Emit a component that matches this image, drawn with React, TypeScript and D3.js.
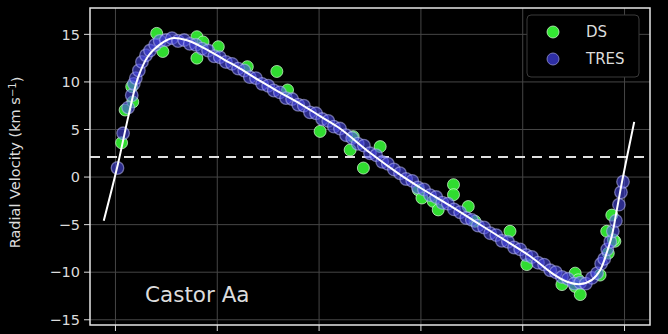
import React from "react";
import * as d3 from "d3";

const W = 668;
const H = 334;

const xTicks = [0, 0.2, 0.4, 0.6, 0.8, 1.0];
const yTicks = [-15, -10, -5, 0, 5, 10, 15];
const gammaVel = 2.1;
const starLabel = "Castor Aa";
const yTitle = "Radial Velocity (km s";

// orbit model (phase, km/s)
const modelPhase = [-0.023, 0.005, 0.025, 0.044, 0.064, 0.089, 0.111, 0.139, 0.176, 0.215, 0.245, 0.284, 0.323, 0.363, 0.402, 0.441, 0.5, 0.559, 0.598, 0.657, 0.706, 0.755, 0.814, 0.86, 0.887, 0.913, 0.936, 0.952, 0.966, 0.975, 0.985, 0.995, 1.019];
const modelVel = [-4.6, 1.4, 6.3, 10.4, 12.7, 14.0, 14.6, 14.4, 13.5, 12.3, 11.4, 10.1, 8.9, 7.7, 6.4, 5.1, 2.55, 0.25, -1.1, -3.0, -4.65, -6.3, -8.3, -10.2, -11.0, -11.25, -10.8, -9.8, -7.8, -6.2, -3.4, -0.5, 5.8];

// DS observations
const dsPhase = [0.012, 0.019, 0.034, 0.032, 0.081, 0.093, 0.160, 0.172, 0.160, 0.202, 0.259, 0.317, 0.338, 0.402, 0.467, 0.461, 0.520, 0.487, 0.595, 0.664, 0.602, 0.624, 0.634, 0.664, 0.693, 0.706, 0.775, 0.808, 0.903, 0.909, 0.903, 0.913, 0.981, 0.965, 0.968, 0.952, 0.975, 0.978, 0.877];
const dsVel = [3.6, 7.05, 7.9, 9.5, 15.1, 13.2, 14.75, 14.2, 12.5, 13.7, 11.6, 11.1, 9.15, 4.8, 4.25, 2.85, 3.2, 0.95, -1.35, -0.8, -2.2, -2.55, -3.45, -1.85, -3.1, -4.65, -5.7, -9.2, -10.1, -10.8, -11.5, -12.35, -6.75, -5.7, -8.0, -10.3, -4.0, -6.6, -11.3];

// TRES observations
const tresPhase = [0.004, 0.015, 0.025, 0.032, 0.036, 0.040, 0.046, 0.052, 0.060, 0.068, 0.078, 0.087, 0.099, 0.111, 0.123, 0.135, 0.146, 0.158, 0.170, 0.182, 0.194, 0.205, 0.217, 0.229, 0.241, 0.253, 0.264, 0.276, 0.288, 0.300, 0.311, 0.323, 0.335, 0.347, 0.359, 0.370, 0.382, 0.394, 0.406, 0.418, 0.429, 0.441, 0.453, 0.465, 0.476, 0.488, 0.500, 0.512, 0.524, 0.535, 0.547, 0.559, 0.571, 0.583, 0.594, 0.606, 0.618, 0.630, 0.642, 0.653, 0.665, 0.677, 0.689, 0.700, 0.712, 0.724, 0.736, 0.748, 0.759, 0.771, 0.783, 0.795, 0.807, 0.818, 0.830, 0.842, 0.854, 0.865, 0.877, 0.889, 0.901, 0.913, 0.924, 0.936, 0.946, 0.954, 0.960, 0.966, 0.972, 0.977, 0.983, 0.989, 0.993, 0.997];
const tresVel = [0.95, 4.6, 7.3, 8.6, 9.8, 10.4, 11.2, 12.1, 12.8, 13.3, 13.9, 14.3, 14.4, 14.6, 14.3, 14.4, 14.0, 13.9, 13.5, 13.3, 12.7, 12.6, 12.1, 11.9, 11.4, 11.2, 10.5, 10.4, 9.8, 9.6, 9.1, 8.9, 8.3, 8.2, 7.6, 7.5, 6.8, 6.7, 6.1, 5.9, 5.3, 5.1, 4.4, 4.1, 3.5, 3.3, 2.5, 2.3, 1.6, 1.4, 0.8, 0.4, -0.2, -0.4, -1.1, -1.3, -1.9, -2.1, -2.7, -2.8, -3.4, -3.7, -4.3, -4.5, -5.1, -5.3, -5.9, -6.1, -6.7, -6.8, -7.4, -7.6, -8.2, -8.4, -9.0, -9.2, -9.8, -10.0, -10.5, -10.7, -11.2, -11.1, -11.2, -10.6, -10.1, -9.1, -8.6, -7.6, -6.8, -5.7, -4.6, -2.9, -1.6, -0.5];

export default function App() {
  const m = { l: 90, r: 650, t: 8, b: 325 };
  const x = d3.scaleLinear().domain([-0.05, 1.05]).range([m.l, m.r]);
  const y = d3.scaleLinear().domain([-15.55, 17.77]).range([m.b, m.t]);

  const model = modelPhase.map((p, i) => [p, modelVel[i]] as [number, number]);
  const line = d3
    .line<[number, number]>()
    .x((d) => x(d[0]))
    .y((d) => y(d[1]))
    .curve(d3.curveCatmullRom.alpha(0.5));

  const font = "DejaVu Sans, sans-serif";
  const txt = "#dcdcdc";
  const green = "#33e833";
  const blue = "#4a4ae6";

  return (
    <svg
      width={W}
      height={H}
      style={{ position: "absolute", left: 0, top: 0, background: "#000" }}
      fontFamily={font}
    >
      <rect x={0} y={0} width={W} height={H} fill="#000" />
      <defs>
        <clipPath id="plot">
          <rect x={m.l} y={m.t} width={m.r - m.l} height={m.b - m.t} />
        </clipPath>
      </defs>
      {/* grid */}
      <g stroke="#464646" strokeWidth={1}>
        {xTicks.map((t) => (
          <line key={"gx" + t} x1={x(t)} x2={x(t)} y1={m.t} y2={m.b} />
        ))}
        {yTicks.map((t) => (
          <line key={"gy" + t} x1={m.l} x2={m.r} y1={y(t)} y2={y(t)} />
        ))}
      </g>
      {/* ticks */}
      <g stroke="#dcdcdc" strokeWidth={1}>
        {xTicks.map((t) => (
          <line key={"tx" + t} x1={x(t)} x2={x(t)} y1={m.b} y2={m.b + 6} />
        ))}
        {yTicks.map((t) => (
          <line key={"ty" + t} x1={m.l - 6} x2={m.l} y1={y(t)} y2={y(t)} />
        ))}
      </g>
      <g fill={txt} fontSize={14.5} textAnchor="end">
        {yTicks.map((t) => (
          <text key={"ly" + t} x={m.l - 10} y={y(t)} dy="0.36em">
            {t < 0 ? "\u2212" + Math.abs(t) : String(t)}
          </text>
        ))}
      </g>
      <text
        transform={`translate(20,${(m.t + m.b) / 2 - 4}) rotate(-90)`}
        textAnchor="middle"
        fill={txt}
        fontSize={14.5}
      >
        {yTitle}
        <tspan dy="-0.45em" fontSize={10}>
          {"\u22121"}
        </tspan>
        <tspan dy="0.45em">)</tspan>
      </text>

      <g clipPath="url(#plot)">
        <line
          x1={m.l}
          x2={m.r}
          y1={y(gammaVel)}
          y2={y(gammaVel)}
          stroke="#e0e0e0"
          strokeWidth={2}
          strokeDasharray="10,7"
        />
        {dsPhase.map((p, i) => (
          <circle
            key={"ds" + i}
            cx={x(p)}
            cy={y(dsVel[i])}
            r={6}
            fill={green}
            fillOpacity={0.95}
            stroke="#d8ffd8"
            strokeOpacity={0.7}
            strokeWidth={1}
          />
        ))}
        {tresPhase.map((p, i) => (
          <circle
            key={"tr" + i}
            cx={x(p)}
            cy={y(tresVel[i])}
            r={6.3}
            fill={blue}
            fillOpacity={0.6}
            stroke="#c4c4ff"
            strokeOpacity={0.5}
            strokeWidth={1.3}
          />
        ))}
        <path d={line(model) || ""} fill="none" stroke="#ffffff" strokeWidth={2} />
      </g>

      <text x={145} y={302} fill={txt} fontSize={21.5}>
        {starLabel}
      </text>

      {/* legend */}
      <rect x={527} y={15} width={112} height={62} rx={4} fill="#000" stroke="#3a3a3a" strokeWidth={1} />
      <circle cx={553} cy={32} r={6} fill={green} stroke="#d8ffd8" strokeOpacity={0.7} />
      <circle cx={553} cy={59} r={6} fill="#2e2ea4" stroke="#9090d0" strokeOpacity={0.8} />
      <text x={586} y={32} dy="0.36em" fill={txt} fontSize={15}>
        DS
      </text>
      <text x={586} y={59} dy="0.36em" fill={txt} fontSize={15}>
        TRES
      </text>

      {/* frame */}
      <rect x={m.l} y={m.t} width={m.r - m.l} height={m.b - m.t} fill="none" stroke="#e6e6e6" strokeWidth={1.5} />
    </svg>
  );
}
